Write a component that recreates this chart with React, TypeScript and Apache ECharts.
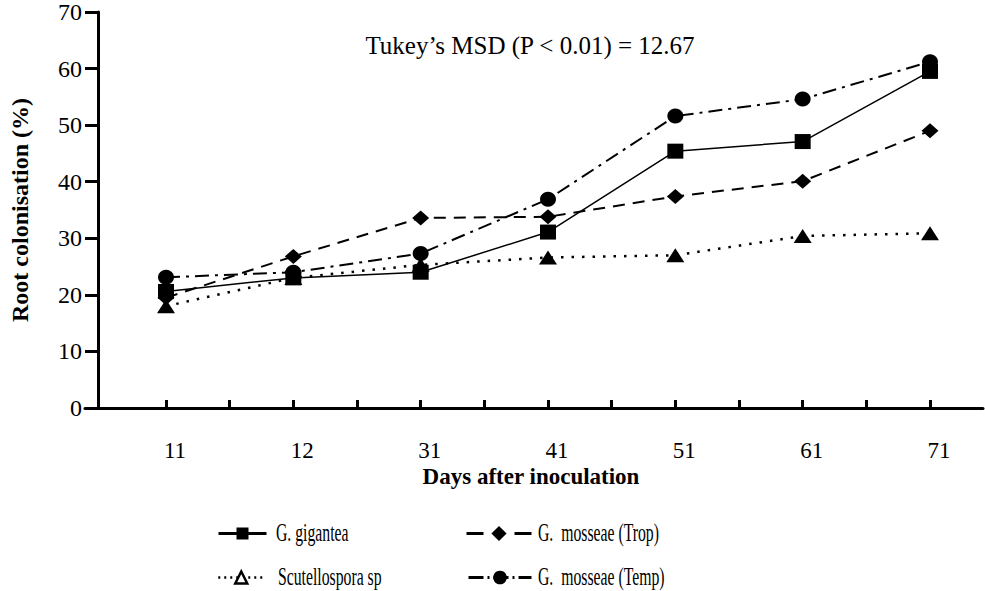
import React, { useEffect, useRef } from "react";
import * as echarts from "echarts";

const days = ["11", "12", "31", "41", "51", "61", "71"];
const gigantea = [20.6, 23.0, 24.0, 31.1, 45.4, 47.1, 59.5];
const mosseaeTrop = [19.5, 26.8, 33.6, 33.8, 37.4, 40.1, 49.0];
const scutellospora = [18.0, 23.0, 25.3, 26.6, 27.0, 30.4, 30.9];
const mosseaeTemp = [23.1, 24.0, 27.3, 36.9, 51.6, 54.6, 61.2];
const seriesNames = ["G. gigantea", "G.  mosseae (Trop)", "Scutellospora sp", "G.  mosseae (Temp)"];
const yMin = 0;
const yMax = 70;
const yStep = 10;

const FONT = "Liberation Serif";

export default function App() {
  const ref = useRef<HTMLDivElement>(null);
  useEffect(() => {
    document.body.style.margin = "0";
    const chart = echarts.init(ref.current!, null, { renderer: "svg" });
    const toData = (vals: number[]) => vals.map((v, i) => [i * 2, v]);
    const common = {
      type: "line",
      xAxisIndex: 0,
      yAxisIndex: 0,
      color: "#000",
      itemStyle: { color: "#000" },
      emphasis: { disabled: true },
    };
    const legendBase = {
      formatter: () => "",
      textStyle: { fontSize: 1 },
      padding: 0,
    };
    const legendLabel = (text: string, x: number, y: number) => ({
      type: "text",
      x,
      y,
      scaleX: 0.63,
      scaleY: 1,
      style: {
        text,
        fontFamily: FONT,
        fontSize: 25,
        fill: "#000",
        verticalAlign: "middle",
        align: "left",
      },
    });
    const option: any = {
      animation: false,
      backgroundColor: "#fff",
      textStyle: { fontFamily: FONT, color: "#000" },
      title: [
        {
          text: "Tukey\u2019s MSD (P < 0.01) = 12.67",
          left: 525,
          top: 28,
          textAlign: "center",
          textStyle: { fontFamily: FONT, fontSize: 25, fontWeight: "normal", color: "#000" },
        },
        {
          text: "Days after inoculation",
          left: 526,
          top: 460,
          textAlign: "center",
          textStyle: { fontFamily: FONT, fontSize: 23, fontWeight: "bold", color: "#000", lineHeight: 23 },
        },
      ],
      grid: [
        { left: 166, right: 55, top: 12, bottom: 183 },
        { left: 85, right: 2, top: 12, bottom: 183 },
      ],
      xAxis: [
        {
          type: "value",
          gridIndex: 0,
          min: 0,
          max: 12,
          interval: 1,
          axisLine: { show: false },
          axisTick: { show: true, inside: true, length: 8, lineStyle: { color: "#000", width: 3 } },
          splitLine: { show: false },
          axisLabel: {
            margin: 31,
            padding: [0, 0, 0, 18],
            fontFamily: FONT,
            fontSize: 23,
            lineHeight: 22,
            color: "#000",
            formatter: (v: number) => (v % 2 === 0 ? days[v / 2] : ""),
          },
        },
        {
          type: "value",
          gridIndex: 1,
          min: 0,
          max: 1,
          axisLine: { show: true, lineStyle: { color: "#000", width: 3 } },
          axisTick: { show: false },
          axisLabel: { show: false },
          splitLine: { show: false },
        },
      ],
      yAxis: [
        {
          type: "value",
          gridIndex: 0,
          min: yMin,
          max: yMax,
          interval: yStep,
          show: false,
          splitLine: { show: false },
        },
        {
          type: "value",
          gridIndex: 1,
          min: yMin,
          max: yMax,
          interval: yStep,
          offset: -13,
          name: "Root colonisation (%)",
          nameLocation: "middle",
          nameGap: 66,
          nameRotate: 90,
          nameTextStyle: { fontFamily: FONT, fontSize: 24, fontWeight: "bold", color: "#000" },
          axisLine: { show: true, lineStyle: { color: "#000", width: 3 } },
          axisTick: { show: true, length: 13, lineStyle: { color: "#000", width: 3 } },
          splitLine: { show: false },
          axisLabel: { margin: 16, fontFamily: FONT, fontSize: 24, color: "#000" },
        },
      ],
      legend: [
        {
          ...legendBase,
          data: [
            {
              name: seriesNames[0],
              lineStyle: { width: 3, type: "solid", color: "#000" },
            },
          ],
          left: 217,
          top: 526,
          itemWidth: 48,
          itemHeight: 15,
        },
        {
          ...legendBase,
          data: [
            {
              name: seriesNames[1],
              lineStyle: { width: 3, type: [17, 31, 17], color: "#000" },
            },
          ],
          left: 465,
          top: 524,
          itemWidth: 65,
          itemHeight: 19,
        },
        {
          ...legendBase,
          data: [
            {
              name: seriesNames[2],
              itemStyle: { color: "#fff", borderColor: "#000", borderWidth: 2.5 },
              lineStyle: { width: 2.5, type: [2, 4], color: "#000" },
            },
          ],
          left: 217,
          top: 570,
          itemWidth: 46,
          itemHeight: 15,
        },
        {
          ...legendBase,
          data: [
            {
              name: seriesNames[3],
              lineStyle: { width: 3, type: [15, 4, 2, 4], color: "#000" },
            },
          ],
          left: 467,
          top: 569,
          itemWidth: 63,
          itemHeight: 17,
        },
      ],
      graphic: [
        legendLabel(seriesNames[0], 276, 533),
        legendLabel(seriesNames[1], 538, 533),
        legendLabel(seriesNames[2], 278, 577),
        legendLabel(seriesNames[3], 538, 577),
      ],
      series: [
        {
          ...common,
          name: seriesNames[3],
          data: toData(mosseaeTemp),
          symbol: "circle",
          symbolSize: [16, 15],
          lineStyle: { color: "#000", width: 2, type: [14, 6, 3, 6] },
          z: 2,
        },
        {
          ...common,
          name: seriesNames[1],
          data: toData(mosseaeTrop),
          symbol: "diamond",
          symbolSize: [17, 15],
          lineStyle: { color: "#000", width: 2, type: [12, 8] },
          z: 3,
        },
        {
          ...common,
          name: seriesNames[2],
          data: toData(scutellospora),
          symbol: "triangle",
          symbolSize: [18, 14],
          lineStyle: { color: "#000", width: 2.5, type: [2.5, 8] },
          z: 4,
        },
        {
          ...common,
          name: seriesNames[0],
          data: toData(gigantea),
          symbol: "rect",
          symbolSize: [16, 15],
          lineStyle: { color: "#000", width: 1.5, type: "solid" },
          z: 5,
        },
      ],
    };
    chart.setOption(option);
    return () => chart.dispose();
  }, []);
  return <div ref={ref} style={{ width: 985, height: 591 }} />;
}
